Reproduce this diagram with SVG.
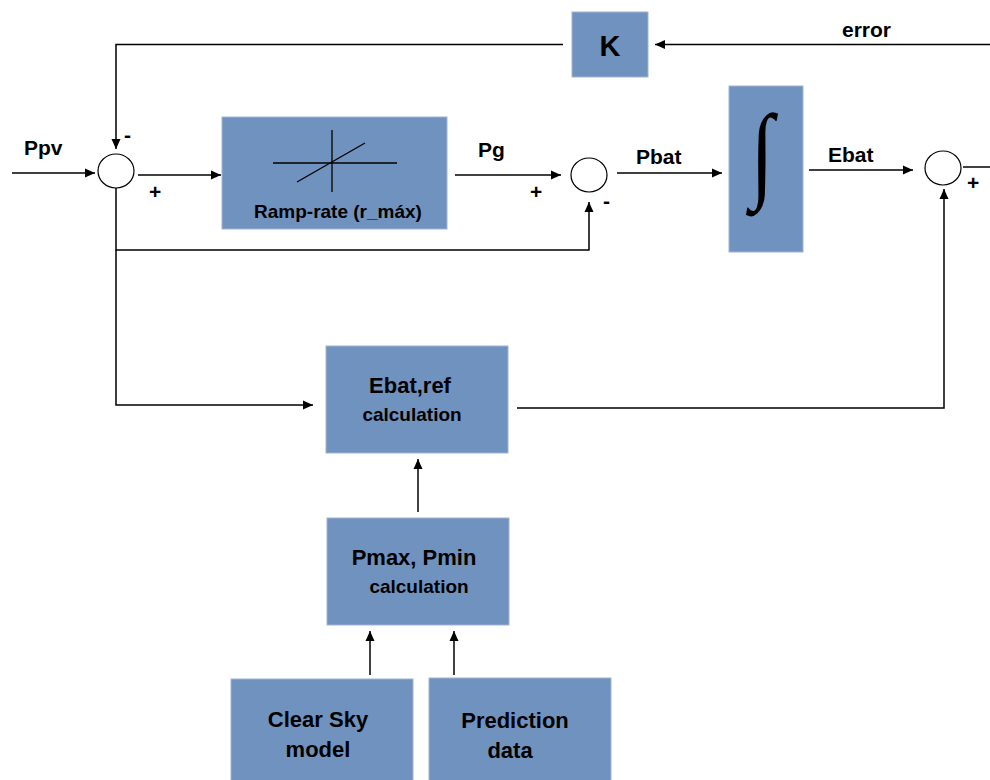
<svg xmlns="http://www.w3.org/2000/svg" width="990" height="780" viewBox="0 0 990 780">
  <style>
    .box { fill: #7092be; stroke: #9fb4d6; stroke-width: 1; }
    .sum { fill: #ffffff; stroke: #000000; stroke-width: 1.2; }
    .wire { fill: none; stroke: #000000; stroke-width: 1.5; }
    .arrow { fill: none; stroke: #000000; stroke-width: 1.5; marker-end: url(#tip); }
    .lbl { font-family: "Liberation Sans", Arial, sans-serif; font-weight: bold; fill: #000000; }
    .c { text-anchor: middle; }
  </style>
  <defs>
    <marker id="tip" viewBox="0 0 10 10" refX="10" refY="5" markerWidth="10" markerHeight="10" markerUnits="userSpaceOnUse" orient="auto">
      <path d="M0,0.5 L10,5 L0,9.5 Z" fill="#000000"/>
    </marker>
  </defs>
  <rect width="990" height="780" fill="#ffffff"/>

  <!-- blocks -->
  <g id="gain-k">
    <rect class="box" x="572" y="12" width="76" height="65"/>
    <text class="lbl c" x="610" y="56" font-size="29">K</text>
  </g>
  <g id="ramp-rate">
    <rect class="box" x="222" y="117" width="225" height="112"/>
    <line x1="273" y1="163" x2="397" y2="163" stroke="#000" stroke-width="1.3"/>
    <line x1="332" y1="130" x2="332" y2="192" stroke="#000" stroke-width="1.3"/>
    <line x1="297" y1="182" x2="365" y2="143" stroke="#000" stroke-width="1.3"/>
    <text class="lbl c" x="338" y="218" font-size="19">Ramp-rate (r_máx)</text>
  </g>
  <g id="integrator">
    <rect class="box" x="729" y="86" width="74" height="166"/>
    <text x="0" y="0" transform="translate(762,188) scale(0.8,1)" font-family="Liberation Serif, 'Times New Roman', serif" font-style="italic" font-size="106" text-anchor="middle" fill="#000">∫</text>
  </g>
  <g id="ebat-ref">
    <rect class="box" x="326" y="346" width="182" height="107"/>
    <text class="lbl c" x="410" y="393" font-size="22">Ebat,ref</text>
    <text class="lbl c" x="412" y="421" font-size="19">calculation</text>
  </g>
  <g id="pmax-pmin">
    <rect class="box" x="327" y="518" width="182" height="107"/>
    <text class="lbl c" x="414" y="565" font-size="22">Pmax, Pmin</text>
    <text class="lbl c" x="419" y="593" font-size="19">calculation</text>
  </g>
  <g id="clear-sky">
    <rect class="box" x="231" y="679" width="182" height="106"/>
    <text class="lbl c" x="318" y="727" font-size="22">Clear Sky</text>
    <text class="lbl c" x="318" y="757" font-size="22">model</text>
  </g>
  <g id="prediction">
    <rect class="box" x="429" y="678" width="182" height="107"/>
    <text class="lbl c" x="515" y="728" font-size="22">Prediction</text>
    <text class="lbl c" x="510" y="758" font-size="22">data</text>
  </g>

  <!-- summing junctions -->
  <g id="sum-1">
    <ellipse class="sum" cx="116" cy="171" rx="18" ry="17"/>
    <text class="lbl" x="124" y="142" font-size="21">-</text>
    <text class="lbl" x="149" y="199" font-size="21">+</text>
  </g>
  <g id="sum-2">
    <ellipse class="sum" cx="589" cy="175" rx="18" ry="17"/>
    <text class="lbl" x="530" y="199" font-size="21">+</text>
    <text class="lbl" x="603" y="208" font-size="21">-</text>
  </g>
  <g id="sum-3">
    <ellipse class="sum" cx="943" cy="168" rx="18" ry="17"/>
    <text class="lbl" x="967" y="190" font-size="21">+</text>
  </g>

  <!-- signal labels -->
  <g id="labels">
    <text class="lbl" x="24" y="155" font-size="21">Ppv</text>
    <text class="lbl" x="478" y="157" font-size="21">Pg</text>
    <text class="lbl" x="636" y="164" font-size="21">Pbat</text>
    <text class="lbl" x="828" y="162" font-size="21">Ebat</text>
    <text class="lbl" x="842" y="37" font-size="21">error</text>
  </g>

  <!-- connectors -->
  <g id="connectors">
    <line class="arrow" x1="990" y1="44.5" x2="655" y2="44.5"/>
    <polyline class="arrow" points="563,44.5 116,44.5 116,149"/>
    <line class="arrow" x1="12" y1="173" x2="95" y2="173"/>
    <line class="arrow" x1="138" y1="175" x2="221" y2="175"/>
    <line class="arrow" x1="455" y1="175" x2="561" y2="175"/>
    <polyline class="arrow" points="116,188 116,250 589,250 589,202"/>
    <polyline class="arrow" points="116,250 116,405 313,405"/>
    <line class="arrow" x1="617" y1="173" x2="722" y2="173"/>
    <line class="arrow" x1="809" y1="170" x2="913" y2="170"/>
    <line class="wire" x1="963" y1="167" x2="990" y2="167"/>
    <polyline class="arrow" points="517,408 944,408 944,189"/>
    <line class="arrow" x1="418" y1="512" x2="418" y2="459"/>
    <line class="arrow" x1="370" y1="675" x2="370" y2="631"/>
    <line class="arrow" x1="454" y1="675" x2="454" y2="631"/>
  </g>
</svg>
